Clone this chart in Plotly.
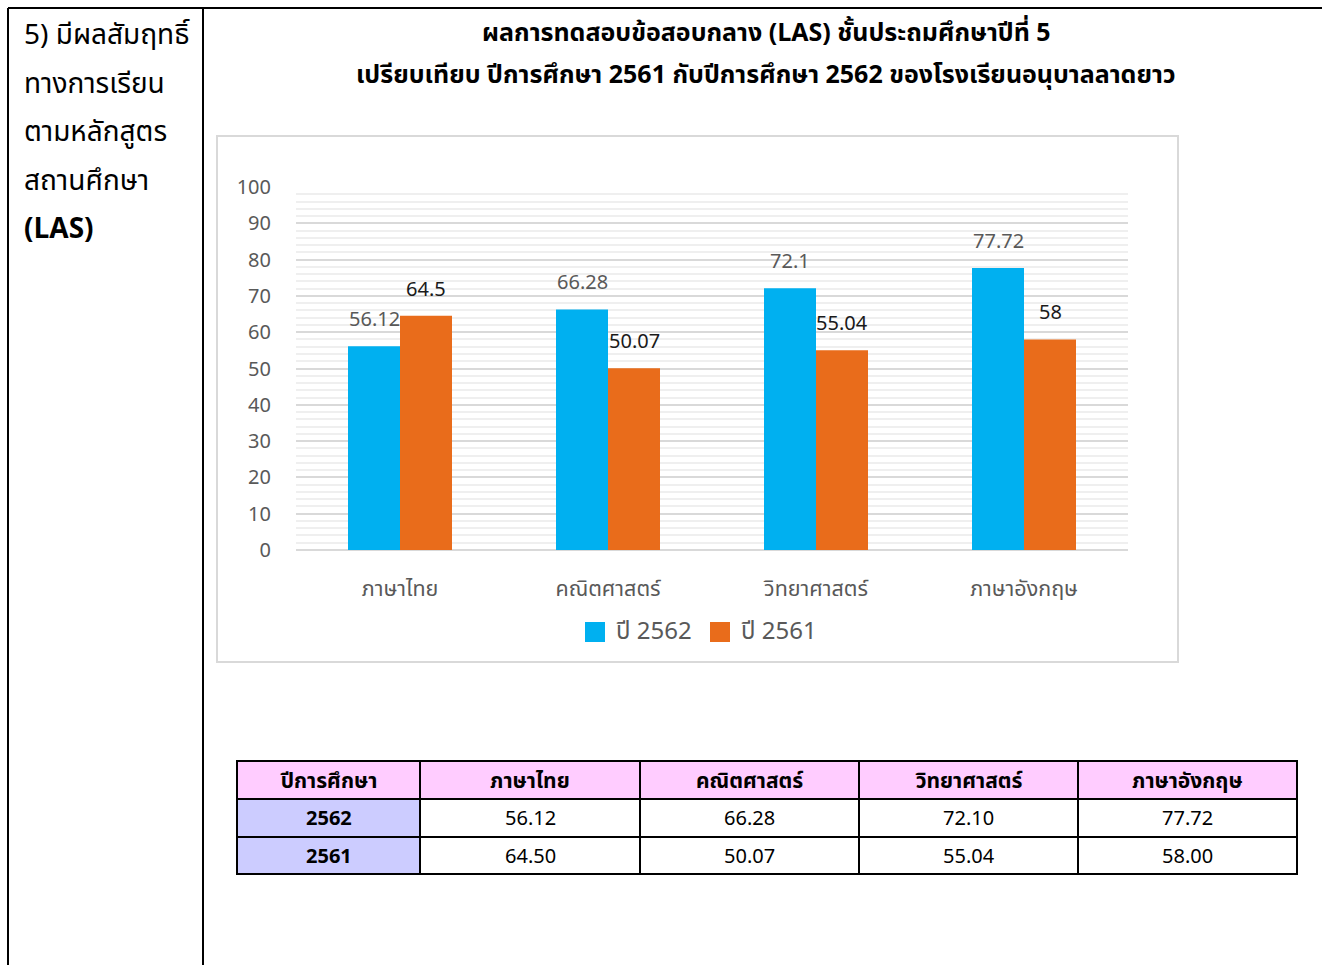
import plotly.graph_objects as go

W, H = 1322, 965

subjects = ["ภาษาไทย", "คณิตศาสตร์", "วิทยาศาสตร์", "ภาษาอังกฤษ"]
years = ["2562", "2561"]
scores_2562 = [56.12, 66.28, 72.1, 77.72]
scores_2561 = [64.5, 50.07, 55.04, 58]
series_names = ["ปี 2562", "ปี 2561"]
series_colors = ["#00b0f0", "#e96c1b"]
label_colors = ["#595959", "#1a1a1a"]

title_lines = [
    "ผลการทดสอบข้อสอบกลาง (LAS) ชั้นประถมศึกษาปีที่ 5",
    "เปรียบเทียบ ปีการศึกษา 2561 กับปีการศึกษา 2562 ของโรงเรียนอนุบาลลาดยาว",
]
side_lines = ["5) มีผลสัมฤทธิ์", "ทางการเรียน", "ตามหลักสูตร", "สถานศึกษา", "(LAS)"]
table_header = ["ปีการศึกษา"] + subjects

FONT = "Noto Sans Thai, Tahoma, Noto Sans, DejaVu Sans, sans-serif"


def px(x):
    return x / W


def py(y):
    return 1 - y / H


fig = go.Figure()

for name, vals, col in zip(series_names, [scores_2562, scores_2561], series_colors):
    fig.add_trace(go.Bar(
        x=subjects, y=vals, name=name, marker=dict(color=col, line=dict(width=0)),
        xaxis="x", yaxis="y", showlegend=False,
    ))

annotations = []
shapes = []

# value labels above each bar
for i, (vals, lc) in enumerate(zip([scores_2562, scores_2561], label_colors)):
    shift = -26 if i == 0 else 26
    for s, v in zip(subjects, vals):
        annotations.append(dict(
            x=s, y=v, xref="x", yref="y", text=f"{v:g}", showarrow=False,
            xshift=shift, yshift=9, yanchor="bottom", xanchor="center",
            font=dict(family=FONT, size=20, color=lc),
        ))

# document frame
shapes += [
    dict(type="line", xref="paper", yref="paper", x0=px(8), x1=1, y0=py(8), y1=py(8),
         line=dict(color="black", width=2)),
    dict(type="line", xref="paper", yref="paper", x0=px(8), x1=px(8), y0=py(8), y1=0,
         line=dict(color="black", width=2)),
    dict(type="line", xref="paper", yref="paper", x0=px(203), x1=px(203), y0=py(8), y1=0,
         line=dict(color="black", width=2)),
    # chart box
    dict(type="rect", xref="paper", yref="paper", x0=px(217), x1=px(1178), y0=py(136), y1=py(662),
         line=dict(color="#d9d9d9", width=2), layer="below"),
]

for i, t in enumerate(title_lines):
    annotations.append(dict(
        xref="paper", yref="paper", x=px(766), y=py(33 + 42 * i), text=t,
        showarrow=False, xanchor="center", yanchor="middle", align="center",
        font=dict(family=FONT, size=25, color="black", weight="bold"),
    ))
for i, t in enumerate(side_lines):
    annotations.append(dict(
        xref="paper", yref="paper", x=px(22), y=py(36 + 48.5 * i), text=t,
        showarrow=False, xanchor="left", yanchor="middle", align="left",
        font=dict(family=FONT, size=28, color="black",
                  weight="bold" if i == len(side_lines) - 1 else "normal"),
    ))

# legend keys
legend_x = [585, 710]
for name, col, lx in zip(series_names, series_colors, legend_x):
    shapes.append(dict(
        type="rect", xref="paper", yref="paper", x0=px(lx), x1=px(lx + 20),
        y0=py(642), y1=py(622), fillcolor=col, line=dict(width=0),
    ))
    annotations.append(dict(
        xref="paper", yref="paper", x=px(lx + 29), y=py(632), text=name,
        showarrow=False, xanchor="left", yanchor="middle", align="left",
        font=dict(family=FONT, size=24, color="#595959"),
    ))

# data table cells
col_edges = [237, 420, 640, 859, 1078, 1297]
row_edges = [761, 799, 837, 874]
rows = [
    (table_header, "#ffccff", True),
    ([years[0]] + [f"{v:.2f}" for v in scores_2562], None, False),
    ([years[1]] + [f"{v:.2f}" for v in scores_2561], None, False),
]
for r, (vals, fill, header) in enumerate(rows):
    y0, y1 = row_edges[r], row_edges[r + 1]
    for c, txt in enumerate(vals):
        x0, x1 = col_edges[c], col_edges[c + 1]
        cell_fill = fill if fill else ("#ccccff" if c == 0 else "white")
        shapes.append(dict(
            type="rect", xref="paper", yref="paper", x0=px(x0), x1=px(x1), y0=py(y0), y1=py(y1),
            fillcolor=cell_fill, line=dict(color="black", width=2), layer="below",
        ))
        annotations.append(dict(
            xref="paper", yref="paper", x=px((x0 + x1) / 2), y=py((y0 + y1) / 2 + 1), text=txt,
            showarrow=False, xanchor="center", yanchor="middle", align="center",
            font=dict(family=FONT, size=21 if header else 20, color="black",
                      weight="bold" if (header or c == 0) else "normal"),
        ))

fig.update_layout(
    width=W, height=H, margin=dict(l=0, r=0, t=0, b=0, autoexpand=False),
    paper_bgcolor="white", plot_bgcolor="white",
    barmode="group", bargap=0.5, bargroupgap=0,
    showlegend=False,
    xaxis=dict(
        domain=[px(296), px(1128)], anchor="y", showgrid=False, showline=False,
        ticks="", ticklabelstandoff=23, automargin=False, fixedrange=True,
        tickfont=dict(family=FONT, size=21.5, color="#595959"),
    ),
    yaxis=dict(
        domain=[py(550), py(187)], anchor="x", range=[0, 100], dtick=10,
        showgrid=True, gridcolor="#d9d9d9", gridwidth=2,
        zeroline=True, zerolinecolor="#d9d9d9", zerolinewidth=2,
        showline=False, ticks="", ticklabelstandoff=24, automargin=False, fixedrange=True,
        tickfont=dict(family=FONT, size=20, color="#595959"),
        minor=dict(dtick=2, showgrid=True, gridcolor="#efefef", gridwidth=2),
    ),
    shapes=shapes,
    annotations=annotations,
)

fig.write_html("out.html")
